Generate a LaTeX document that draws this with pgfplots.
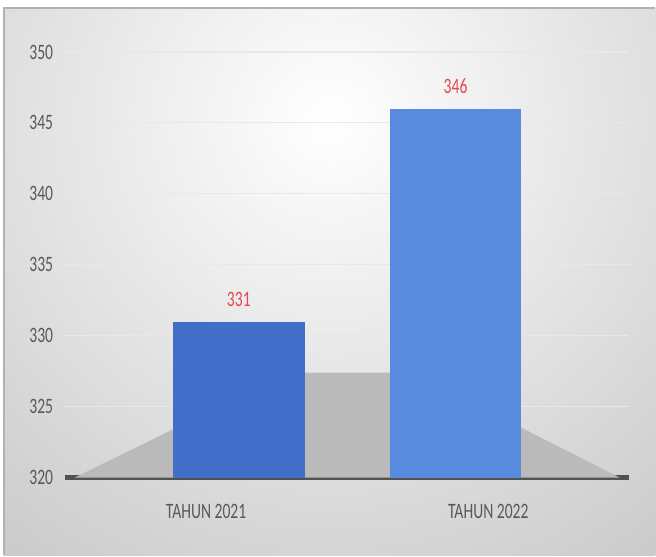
\documentclass[border=0pt]{standalone}
\usepackage{pgfplots}
\pgfplotsset{compat=1.18}
\usepackage{fontspec}
\setmainfont{Carlito}
\newfontfamily\cond[FakeStretch=0.71]{Carlito}
\definecolor{barA}{RGB}{64,110,200}
\definecolor{barB}{RGB}{88,138,222}
\definecolor{lblred}{RGB}{226,72,82}
\begin{document}
\begin{tikzpicture}[x=1pt,y=1pt]
\path (0,0) rectangle (328,278);
\begin{scope}
\clip (2,0) rectangle (328,274);
\shade[inner color=white, outer color=black!22] (165,218) circle (290);
\end{scope}
\draw[black!30, line width=0.6pt] (2,0) -- (2,274) -- (328,274);
\begin{axis}[
  at={(32.5pt,39pt)}, anchor=south west,
  scale only axis, width=282.5pt, height=213pt,
  xmin=-0.5, xmax=1.5, ymin=320, ymax=350,
  ytick={320,325,...,350},
  xtick={0,1}, xticklabels={TAHUN 2021,TAHUN 2022},
  axis x line*=bottom, axis y line*=left,
  y axis line style={draw=none},
  x axis line style={black!68, line width=2.5pt},
  major tick length=0,
  ymajorgrids, grid style={black!9, line width=0.6pt},
  /pgf/number format/assume math mode=true,
  ticklabel style={font=\cond\fontsize{11}{13}\selectfont, text=black!65},
  yticklabel style={xshift=-2.4pt},
  xticklabel style={yshift=-10pt},
  ybar, bar width=0.467,
  nodes near coords,
  nodes near coords style={font=\cond\fontsize{11}{13}\selectfont, text=lblred, yshift=4pt},
  clip=false,
]
\fill[black!27] (axis cs:-0.465,320) -- (axis cs:1.465,320) -- (axis cs:0.732,327.4) -- (axis cs:0.293,327.4) -- cycle;
\addplot[fill=barA, draw=none, bar shift=0.116] coordinates {(0,331)};
\addplot[fill=barB, draw=none, bar shift=-0.116] coordinates {(1,346)};
\end{axis}
\end{tikzpicture}
\end{document}
